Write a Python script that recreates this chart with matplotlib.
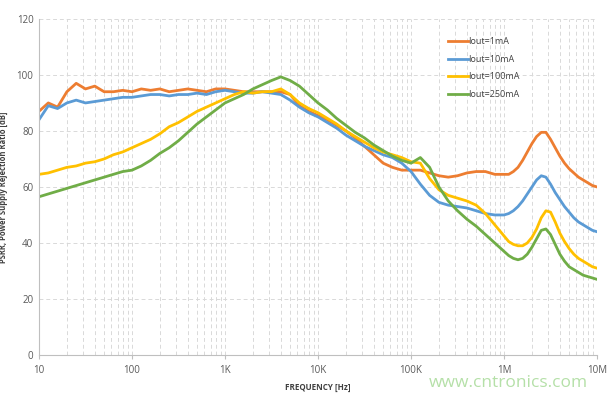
import numpy as np
import matplotlib
matplotlib.use('Agg')
import matplotlib.pyplot as plt
from matplotlib.ticker import FixedLocator, LogLocator, NullFormatter

plt.rcParams['font.family'] = ['Open Sans', 'DejaVu Sans']

# frequency points: 10 per decade from 10 Hz to 1 MHz, 20 per decade from 1 MHz to 10 MHz
freq = np.concatenate([10 ** (1 + np.arange(50) / 10), 10 ** (6 + np.arange(21) / 20)])

iout_1ma = [87, 90, 88.5, 94, 97, 95, 96, 94, 94, 94.5,
            94, 95, 94.5, 95, 94, 94.5, 95, 94.5, 94, 95,
            95, 94.5, 94, 94, 94, 94, 94, 93, 89, 87,
            85.5, 84, 82, 80, 77.5, 74.5, 71.5, 68.5, 67, 66,
            66, 66, 65, 64, 63.5, 64, 65, 65.5, 65.5, 64.5,
            64.5, 64.5, 65.5, 67, 69.5, 72.5, 75.5, 78, 79.5, 79.5,
            77, 74, 71, 68.5, 66.5, 65, 63.5, 62.5, 61.5, 60.5,
            60]
iout_10ma = [84, 89, 88, 90, 91, 90, 90.5, 91, 91.5, 92,
             92, 92.5, 93, 93, 92.5, 93, 93, 93.5, 93, 94,
             94.5, 94, 93.5, 93.5, 94, 93.5, 93, 91, 88.5, 86.5,
             85, 83, 81, 78.5, 76.5, 74.5, 73, 71.5, 70.5, 68.5,
             65.5, 61, 57, 54.5, 53.5, 53, 52.5, 51.5, 50.5, 50,
             50, 50.5, 51.5, 53, 55, 57.5, 60, 62.5, 64, 63.5,
             61, 58, 55.5, 53, 51, 49, 47.5, 46.5, 45.5, 44.5,
             44]
iout_100ma = [64.5, 65, 66, 67, 67.5, 68.5, 69, 70, 71.5, 72.5,
              74, 75.5, 77, 79, 81.5, 83, 85, 87, 88.5, 90,
              91.5, 93, 94, 93.5, 94, 94, 95, 93, 90, 88,
              86.5, 84.5, 82.5, 80, 78, 76, 74, 72.5, 71.5, 70.5,
              69, 68.5, 63, 59, 57, 56, 55, 53.5, 50.5, 46.5,
              42.5, 40.5, 39.5, 39, 39, 40, 42, 45, 49, 51.5,
              51, 47.5, 43.5, 40.5, 38, 36, 34.5, 33.5, 32.5, 31.5,
              31]
iout_250ma = [56.5, 57.5, 58.5, 59.5, 60.5, 61.5, 62.5, 63.5, 64.5, 65.5,
              66, 67.5, 69.5, 72, 74, 76.5, 79.5, 82.5, 85, 87.5,
              90, 91.5, 93, 95, 96.5, 98, 99.3, 98, 96, 93,
              90, 87.5, 84.5, 82, 79.5, 77.5, 75, 73, 71, 69.5,
              68.5, 70.5, 67, 60, 55, 51.5, 48.5, 46, 43, 40,
              37, 35.5, 34.5, 34, 34.5, 36, 38.5, 41.5, 44.5, 45,
              43, 39.5, 36, 33.5, 31.5, 30.5, 29.5, 28.5, 28, 27.5,
              27]

labels = ['Iout=1mA', 'Iout=10mA', 'Iout=100mA', 'Iout=250mA']
colors = ['#ED7D31', '#5B9BD5', '#FFC000', '#70AD47']
xticks = [10, 100, 1e3, 1e4, 1e5, 1e6, 1e7]
xticklabels = ['10', '100', '1K', '10K', '100K', '1M', '10M']

fig = plt.figure(figsize=(6.13, 3.94), dpi=100)
ax = fig.add_axes([0.0636, 0.099, 0.9104, 0.853])

for ys, lab, c in zip([iout_1ma, iout_10ma, iout_100ma, iout_250ma], labels, colors):
    ax.plot(freq, ys, color=c, linewidth=2, label=lab)

ax.set_xscale('log')
ax.set_xlim(10, 1e7)
ax.set_ylim(0, 120)
ax.xaxis.set_major_locator(FixedLocator(xticks))
ax.set_xticklabels(xticklabels)
ax.xaxis.set_minor_locator(LogLocator(base=10, subs=np.arange(2, 10)))
ax.xaxis.set_minor_formatter(NullFormatter())
ax.set_yticks(range(0, 121, 20))

ax.grid(True, which='both', axis='x', linestyle=(0, (4, 3)), color='#d9d9d9', linewidth=0.7)
ax.grid(True, which='major', axis='y', linestyle=(0, (4, 3)), color='#d9d9d9', linewidth=0.7)
ax.set_axisbelow(True)

for s in ['top', 'right']:
    ax.spines[s].set_visible(False)
for s in ['left', 'bottom']:
    ax.spines[s].set_color('#bfbfbf')
ax.tick_params(axis='both', which='both', length=0, labelsize=7, colors='#595959', pad=4)
ax.tick_params(axis='x', which='major', length=3, color='#bfbfbf')

ax.set_xlabel('FREQUENCY [Hz]', fontsize=5.8, fontweight='bold', color='#404040', labelpad=5)
ax.set_ylabel('PSRR, Power Supply Rejection Ratio [dB]', fontsize=5.5, fontweight='bold',
              color='#404040', labelpad=6)

ax.legend(loc='upper left', bbox_to_anchor=(0.718, 0.97), frameon=False, fontsize=6.5,
          handlelength=2.2, handletextpad=0.1, labelspacing=0.95, labelcolor='#404040')

fig.text(0.70, 0.018, 'www.cntronics.com', fontsize=12.5, color='#b5e0a8')

fig.savefig('out.png', dpi=100)
